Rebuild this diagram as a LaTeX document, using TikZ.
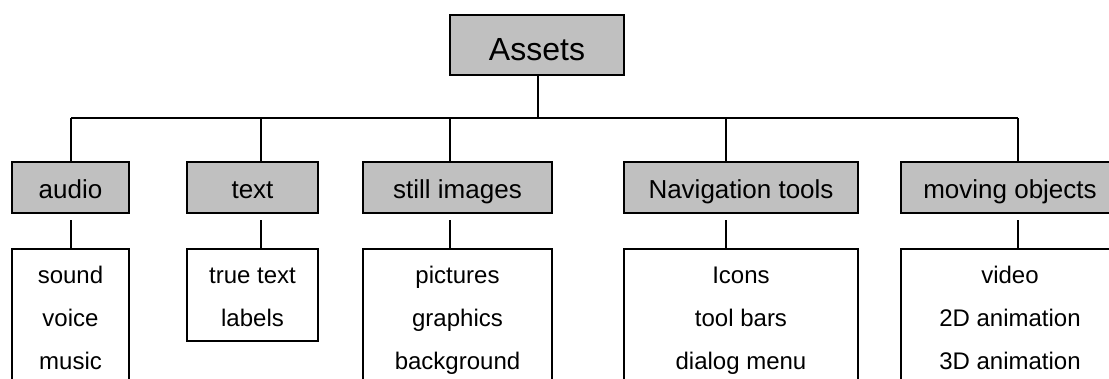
\documentclass[tikz,border=0pt]{standalone}
\usepackage{fontspec}
\setmainfont{Liberation Sans}
\definecolor{boxgray}{HTML}{C0C0C0}
\begin{document}
\begin{tikzpicture}[x=1pt,y=-1pt,
  catbox/.style={draw=black,line width=1.6pt,fill=boxgray,inner sep=0pt,minimum height=51pt,
    font=\fontsize{26}{30}\selectfont,text height=21pt,text depth=0pt},
  topbox/.style={draw=black,line width=1.6pt,fill=boxgray,inner sep=0pt,minimum width=174pt,minimum height=60pt,
    font=\fontsize{32}{36}\selectfont,text height=30pt,text depth=0pt},
  listbox/.style={draw=black,line width=1.6pt,fill=white,inner sep=0pt,anchor=north},
  item/.style={anchor=base,inner sep=0pt,font=\fontsize{24}{28}\selectfont},
  conn/.style={draw=black,line width=1.1pt}]
\useasboundingbox (0,0) rectangle (1109,378);
\clip (0,0) rectangle (1109,378);

% top
\node[topbox] (assets) at (537,45) {Assets};

% categories
\node[catbox,minimum width=117pt] (audio) at (70.5,187.5) {audio};
\node[catbox,minimum width=131pt] (text) at (252.5,187.5) {text};
\node[catbox,minimum width=189pt] (still) at (457.5,187.5) {still images};
\node[catbox,minimum width=234pt] (nav) at (741,187.5) {Navigation tools};
\node[catbox,minimum width=218pt] (moving) at (1010,187.5) {moving objects};

% list boxes
\node[listbox,minimum width=117pt,minimum height=160pt] (audiolist) at (70.5,248) {};
\node[listbox,minimum width=131pt,minimum height=92pt] (textlist) at (252.5,248) {};
\node[listbox,minimum width=189pt,minimum height=160pt] (stilllist) at (457.5,248) {};
\node[listbox,minimum width=234pt,minimum height=160pt] (navlist) at (741,248) {};
\node[listbox,minimum width=218pt,minimum height=160pt] (movinglist) at (1010,248) {};

% list items
\node[item] (a1) at (70.5,283) {sound};
\node[item] (a2) at (70.5,326) {voice};
\node[item] (a3) at (70.5,369) {music};
\node[item] (t1) at (252.5,283) {true text};
\node[item] (t2) at (252.5,326) {labels};
\node[item] (s1) at (457.5,283) {pictures};
\node[item] (s2) at (457.5,326) {graphics};
\node[item] (s3) at (457.5,369) {background};
\node[item] (n1) at (741,283) {Icons};
\node[item] (n2) at (741,326) {tool bars};
\node[item] (n3) at (741,369) {dialog menu};
\node[item] (m1) at (1010,283) {video};
\node[item] (m2) at (1010,326) {2D animation};
\node[item] (m3) at (1010,369) {3D animation};

% bus coordinates
\coordinate (bt) at (538,118);
\coordinate (ba) at (71,118);
\coordinate (bx) at (261,118);
\coordinate (bs) at (450,118);
\coordinate (bn) at (726,118);
\coordinate (bm) at (1018,118);
\coordinate (la) at (71,220);
\coordinate (lx) at (261,220);
\coordinate (ls) at (450,220);
\coordinate (ln) at (726,220);
\coordinate (lm) at (1018,220);

\draw[conn] (bt |- assets.south) -- (bt);
\draw[conn] (ba) -- (bm);
\draw[conn] (ba) -- (ba |- audio.north);
\draw[conn] (bx) -- (bx |- text.north);
\draw[conn] (bs) -- (bs |- still.north);
\draw[conn] (bn) -- (bn |- nav.north);
\draw[conn] (bm) -- (bm |- moving.north);

\draw[conn] (la) -- (la |- audiolist.north);
\draw[conn] (lx) -- (lx |- textlist.north);
\draw[conn] (ls) -- (ls |- stilllist.north);
\draw[conn] (ln) -- (ln |- navlist.north);
\draw[conn] (lm) -- (lm |- movinglist.north);
\end{tikzpicture}
\end{document}
